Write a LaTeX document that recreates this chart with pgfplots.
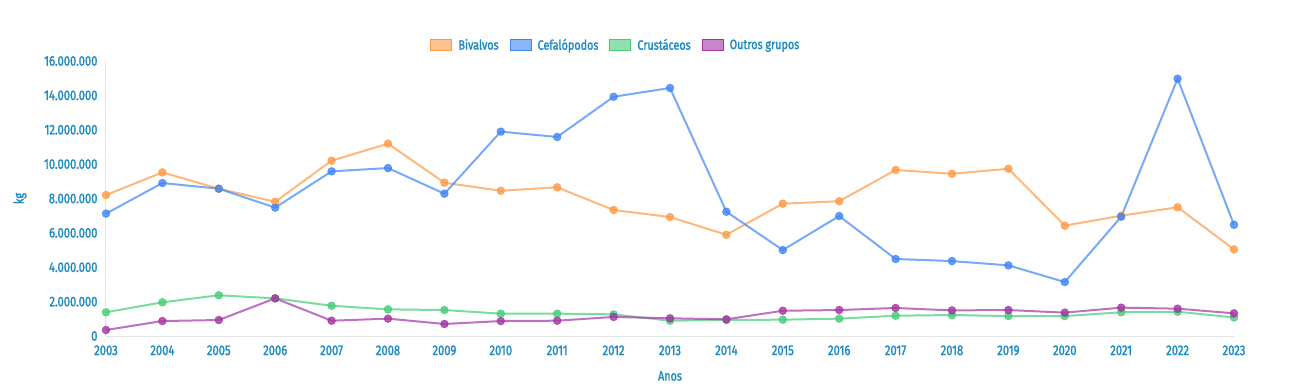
\documentclass[border=0pt]{standalone}
\usepackage{fontspec}
\setmainfont{Fira Sans}[FakeStretch=0.8, FakeBold=1.6]
\usepackage{pgfplots}
\pgfplotsset{compat=1.18}

\definecolor{txt}{HTML}{1B8AC2}
\definecolor{biv}{HTML}{FF9A45}
\definecolor{cef}{HTML}{3D86F5}
\definecolor{cru}{HTML}{45CC77}
\definecolor{out}{HTML}{A533A5}

% Annual landings (kg) by group
\pgfplotstableread{
ano  biv      cef       cru     out
2003 8200000  7120000   1380000 350000
2004 9520000  8900000   1960000 870000
2005 8570000  8570000   2370000 930000
2006 7810000  7470000   2190000 2190000
2007 10200000 9580000   1760000 890000
2008 11190000 9770000   1550000 1010000
2009 8920000  8280000   1510000 700000
2010 8450000  11890000  1300000 870000
2011 8650000  11580000  1300000 890000
2012 7330000  13920000  1260000 1110000
2013 6920000  14430000  890000  1030000
2014 5890000  7230000   930000  970000
2015 7700000  5000000   950000  1470000
2016 7840000  6980000   1010000 1510000
2017 9660000  4480000   1180000 1630000
2018 9440000  4360000   1220000 1490000
2019 9730000  4110000   1160000 1510000
2020 6420000  3140000   1160000 1360000
2021 7000000  6940000   1380000 1650000
2022 7490000  14970000  1410000 1590000
2023 5040000  6470000   1080000 1320000
}\landings

\pgfplotsset{
  series/.style={line width=2pt, draw=#1, draw opacity=0.7,
    mark=*, mark size=3.8pt,
    mark options={fill=#1, draw=#1, fill opacity=0.8, draw opacity=0.8, line width=0.8pt}},
  box/.style={legend image code/.code={
    \draw[draw=#1, fill=#1!60, line width=1pt] (0pt,-5.5pt) rectangle (21pt,6pt);}},
}

\begin{document}
\begin{tikzpicture}[x=1pt,y=1pt]
\path[use as bounding box] (0,0) rectangle (1294,389);
\begin{axis}[
  at={(106pt,53pt)}, anchor=south west,
  scale only axis, width=1128pt, height=275pt,
  xmin=2003, xmax=2023, ymin=0, ymax=16000000,
  scaled y ticks=false,
  clip=false,
  axis lines=left,
  axis line style={draw=black!10, line width=1pt, -},
  major tick length=0pt,
  xtick={2003,2004,2005,2006,2007,2008,2009,2010,2011,2012,2013,2014,2015,2016,2017,2018,2019,2020,2021,2022,2023},
  xticklabels={2003,2004,2005,2006,2007,2008,2009,2010,2011,2012,2013,2014,2015,2016,2017,2018,2019,2020,2021,2022,2023},
  ytick={0,2000000,4000000,6000000,8000000,10000000,12000000,14000000,16000000},
  yticklabels={0,2.000.000,4.000.000,6.000.000,8.000.000,10.000.000,12.000.000,14.000.000,16.000.000},
  tick label style={font=\fontsize{14}{14}\selectfont, text=txt},
  xticklabel style={yshift=-6pt},
  yticklabel style={xshift=-5pt},
  xlabel={Anos}, ylabel={kg},
  every axis x label/.style={at={(axis description cs:0.5,0)}, anchor=center, yshift=-40pt,
    font=\fontsize{13.5}{13.5}\selectfont, text=txt},
  every axis y label/.style={at={(axis description cs:0,0.5)}, anchor=center, xshift=-86pt,
    rotate=90, font=\fontsize{13.5}{13.5}\selectfont, text=txt},
  legend style={at={(axis description cs:0.452,1.058)}, anchor=center,
    draw=none, fill=none, legend columns=-1,
    font=\fontsize{13.5}{13.5}\selectfont, text=txt,
    /tikz/every odd column/.append style={column sep=4pt},
    /tikz/every even column/.append style={column sep=9pt}},
  legend cell align=left,
]
\addplot[series=biv, forget plot] table[x=ano, y=biv] {\landings};
\addplot[series=cef, forget plot] table[x=ano, y=cef] {\landings};
\addplot[series=cru, forget plot] table[x=ano, y=cru] {\landings};
\addplot[series=out, forget plot] table[x=ano, y=out] {\landings};
\addlegendimage{box=biv}\addlegendentry{Bivalvos}
\addlegendimage{box=cef}\addlegendentry{Cefalópodos}
\addlegendimage{box=cru}\addlegendentry{Crustáceos}
\addlegendimage{box=out}\addlegendentry{Outros grupos}
\end{axis}
\end{tikzpicture}
\end{document}
